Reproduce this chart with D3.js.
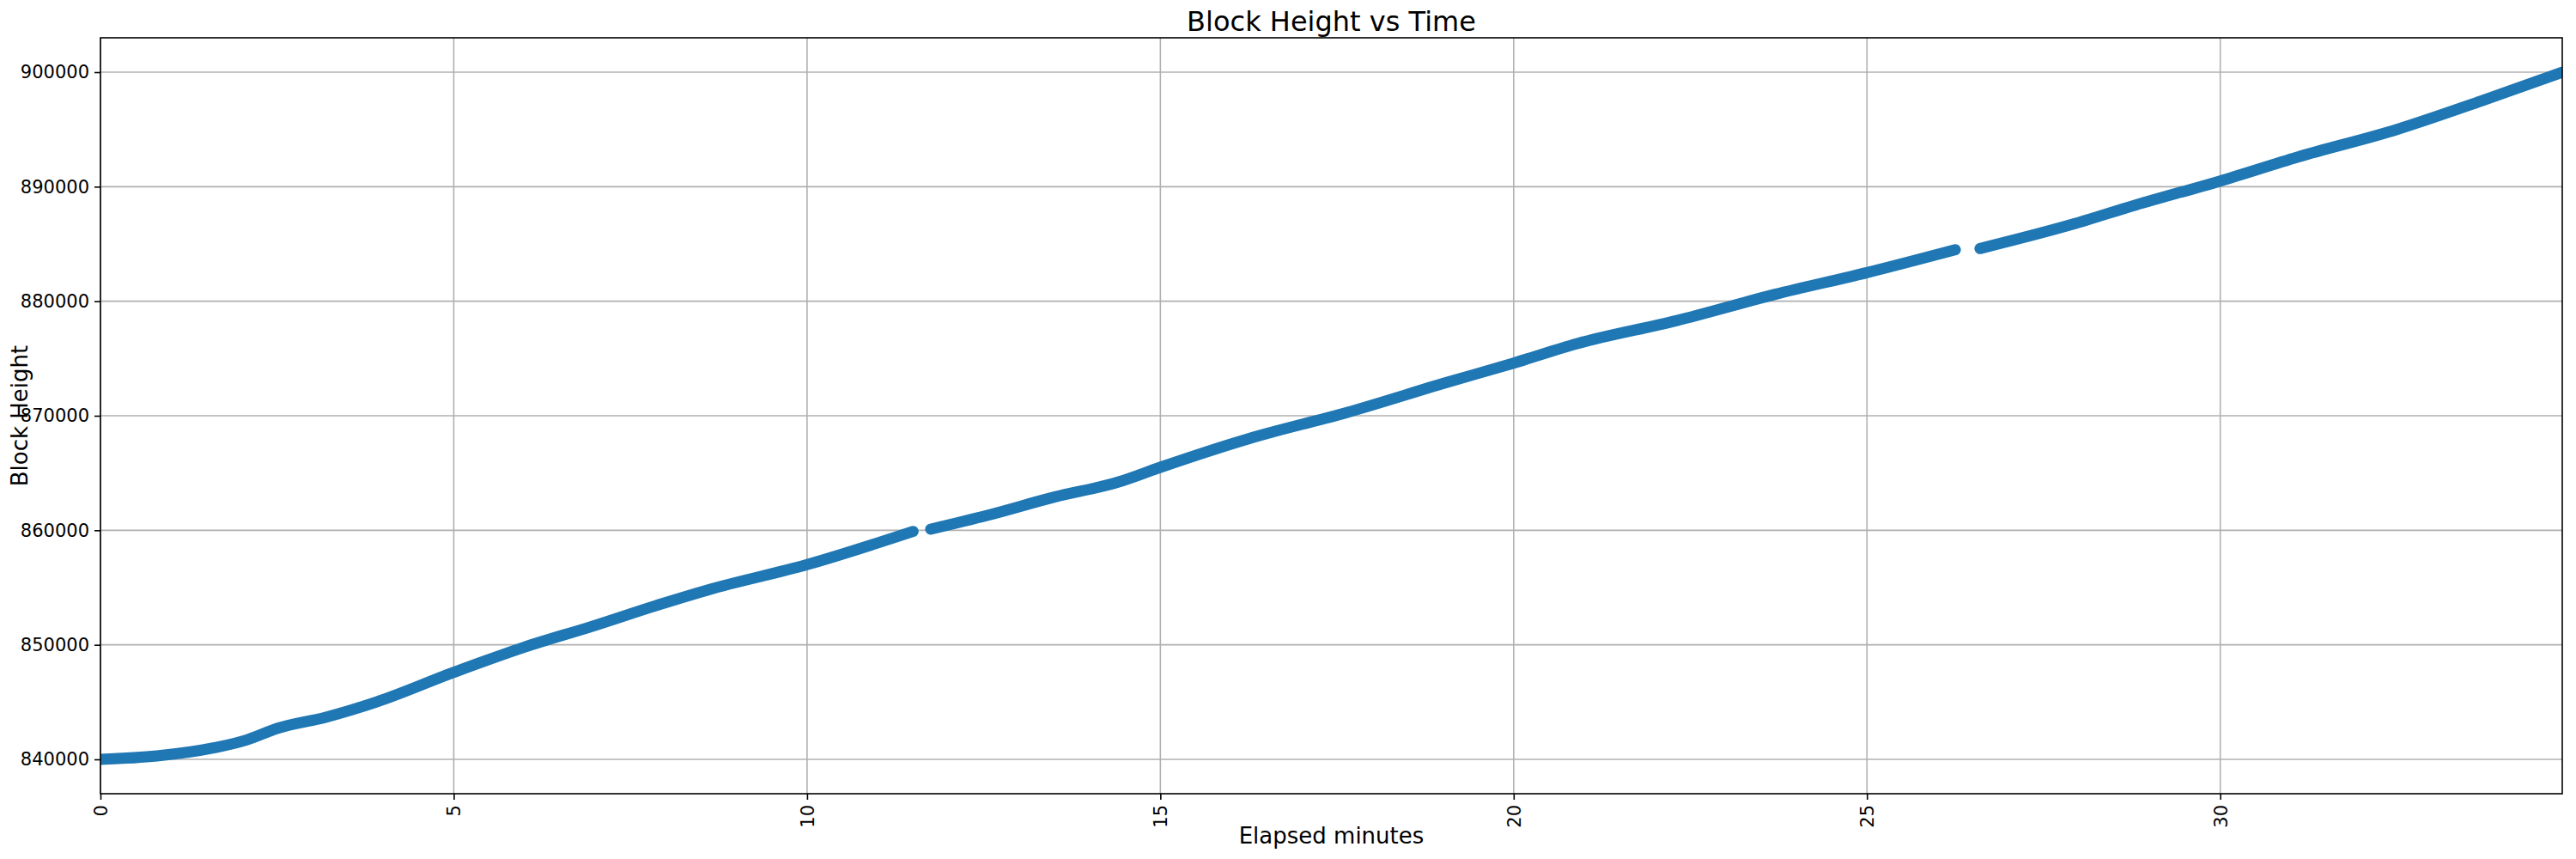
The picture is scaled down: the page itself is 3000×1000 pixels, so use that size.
<!DOCTYPE html>
<html>
<head>
<meta charset="utf-8">
<script src="https://cdn.jsdelivr.net/npm/d3@7"></script>
<style>
  body { margin: 0; background: #fff; }
  text { font-family: "DejaVu Sans", sans-serif; fill: #000; }
</style>
</head>
<body>
<svg id="chart" width="3000" height="1000"></svg>
<script>
// segments split where the recorded data has gaps
const segmentA = [[0, 840000], [0.8, 840300], [1.6, 841000], [2.07, 841700], [2.5, 842700],
  [3.2, 843700], [3.9, 845000], [5, 847600], [6.0, 849800], [6.95, 851600], [7.9, 853500],
  [8.6, 854800], [10, 857000], [11.5, 859900]];
const segmentB = [[11.75, 860100], [12.55, 861300], [13.5, 862900], [14.4, 864200], [15, 865500],
  [16.25, 868000], [17.65, 870300], [19.05, 872900], [20, 874600], [20.9, 876300],
  [22.3, 878300], [23.7, 880600], [25, 882500], [26.25, 884500]];
const segmentC = [[26.6, 884600], [27.9, 886700], [28.8, 888400], [30, 890500], [31.1, 892600],
  [32.5, 895000], [33.7, 897500], [34.84, 900000]];
const xTicks = [0, 5, 10, 15, 20, 25, 30];
const yTicks = [840000, 850000, 860000, 870000, 880000, 890000, 900000];

const M = { left: 117, right: 2984, top: 44, bottom: 924 };
const svg = d3.select("#chart");

const x = d3.scaleLinear().domain([0, 34.84]).range([M.left, M.right]);
const y = d3.scaleLinear().domain([837000, 903000]).range([M.bottom, M.top]);

/* grid */
svg.append("g").selectAll("line").data(xTicks).enter().append("line")
  .attr("x1", d => x(d)).attr("x2", d => x(d)).attr("y1", M.top).attr("y2", M.bottom)
  .attr("stroke", "#b0b0b0").attr("stroke-width", 1.6);
svg.append("g").selectAll("line").data(yTicks).enter().append("line")
  .attr("y1", d => y(d)).attr("y2", d => y(d)).attr("x1", M.left).attr("x2", M.right)
  .attr("stroke", "#b0b0b0").attr("stroke-width", 1.6);

/* data */
const line = d3.line().x(d => x(d[0])).y(d => y(d[1])).curve(d3.curveMonotoneX);
svg.append("defs").append("clipPath").attr("id", "clip").append("rect")
  .attr("x", M.left).attr("y", M.top).attr("width", M.right - M.left).attr("height", M.bottom - M.top);
svg.append("g").attr("clip-path", "url(#clip)")
  .selectAll("path").data([segmentA, segmentB, segmentC]).enter().append("path")
  .attr("d", line).attr("fill", "none").attr("stroke", "#1f77b4")
  .attr("stroke-width", 13).attr("stroke-linecap", "round").attr("stroke-linejoin", "round");

/* axes */
const xAxis = d3.axisBottom(x).tickValues(xTicks).tickSize(7).tickPadding(6);
const yAxis = d3.axisLeft(y).tickValues(yTicks).tickSize(7).tickPadding(6).tickFormat(d3.format("d"));

const gx = svg.append("g").attr("transform", `translate(0,${M.bottom})`).call(xAxis);
gx.selectAll("text").attr("font-size", 21)
  .attr("transform", "rotate(-90)").attr("text-anchor", "end")
  .attr("x", -13).attr("y", 0).attr("dy", "0.35em");
const gy = svg.append("g").attr("transform", `translate(${M.left},0)`).call(yAxis);
gy.selectAll("text").attr("font-size", 21);
svg.selectAll(".domain").remove();
svg.selectAll(".tick line").attr("stroke", "#000").attr("stroke-width", 1.6);

svg.append("rect").attr("x", M.left).attr("y", M.top)
  .attr("width", M.right - M.left).attr("height", M.bottom - M.top)
  .attr("fill", "none").attr("stroke", "#000").attr("stroke-width", 1.6);

/* labels */
svg.append("text").attr("x", (M.left + M.right) / 2).attr("y", 36)
  .attr("text-anchor", "middle").attr("font-size", 32).text("Block Height vs Time");
svg.append("text").attr("x", (M.left + M.right) / 2).attr("y", 982)
  .attr("text-anchor", "middle").attr("font-size", 26).text("Elapsed minutes");
svg.append("text").attr("transform", `translate(32,${(M.top + M.bottom) / 2}) rotate(-90)`)
  .attr("text-anchor", "middle").attr("font-size", 26).text("Block Height");
</script>
</body>
</html>
